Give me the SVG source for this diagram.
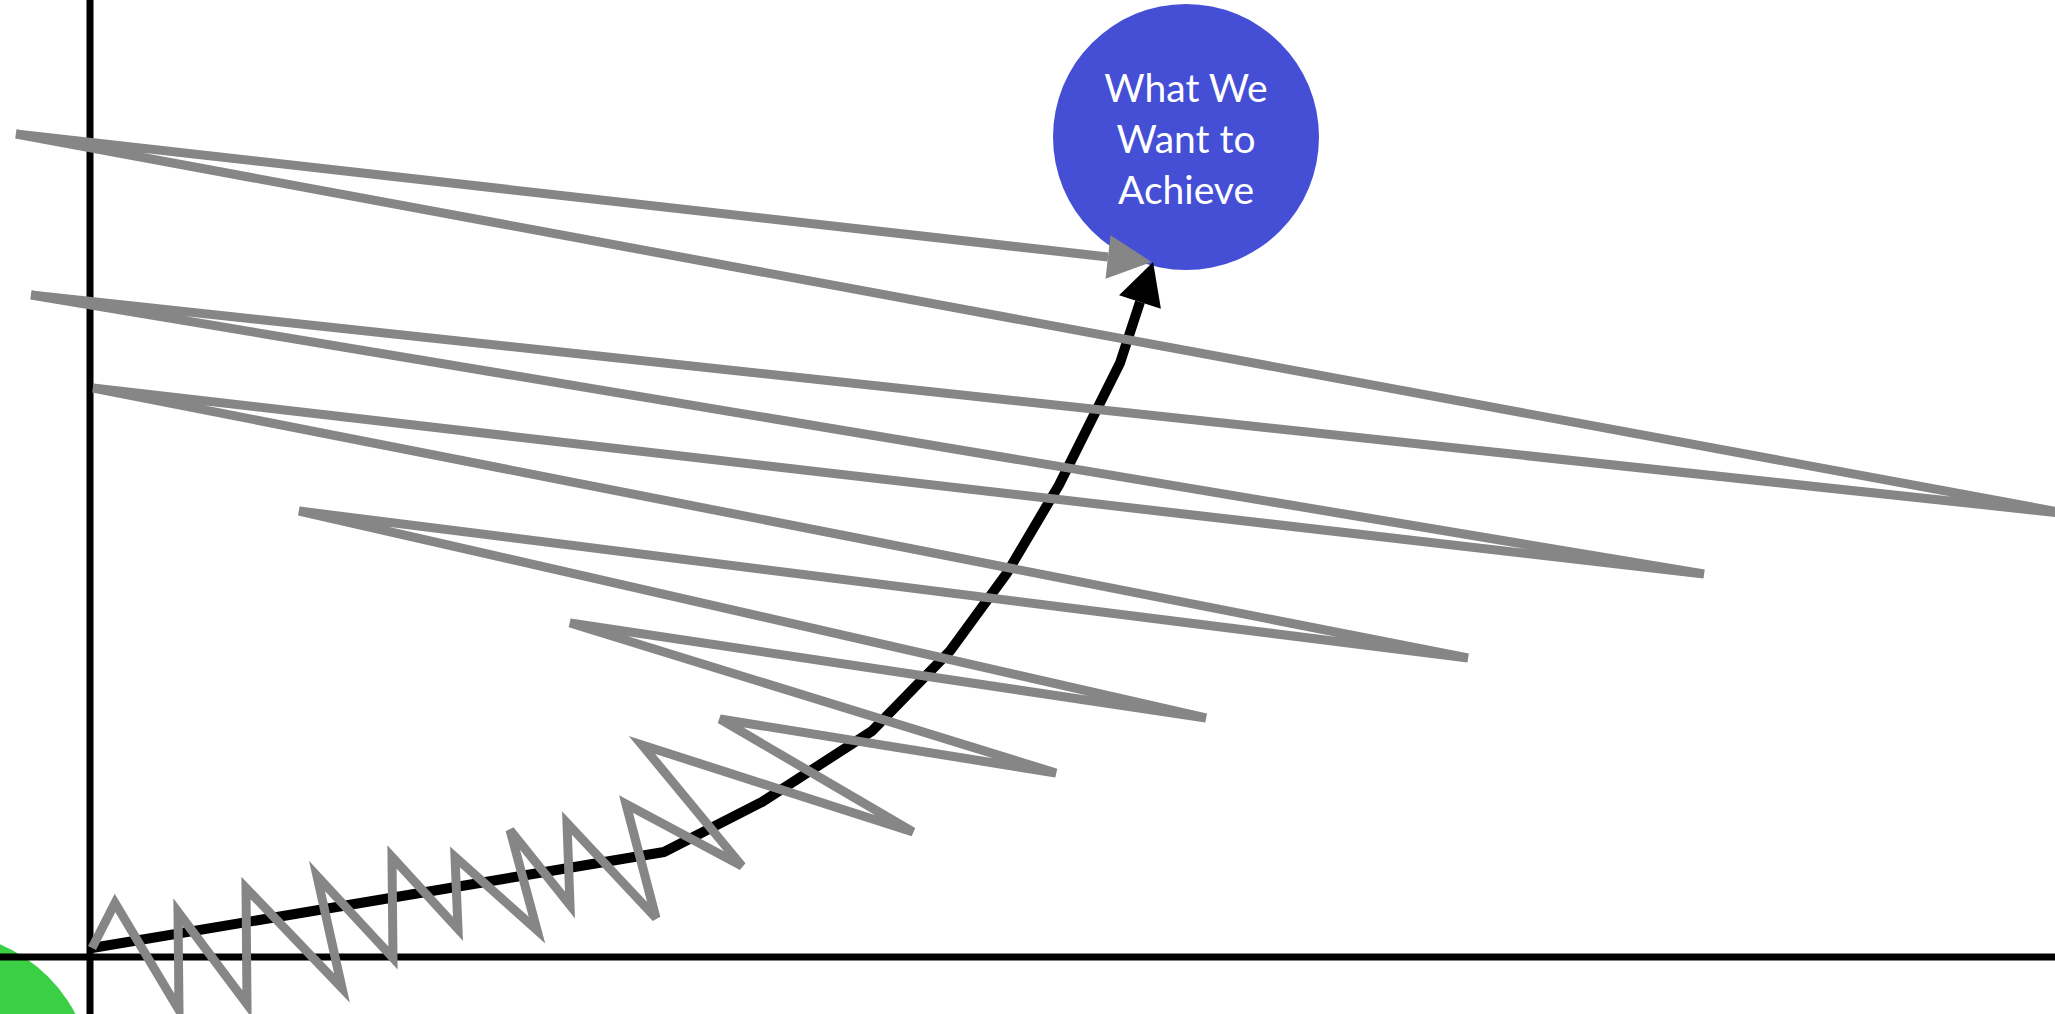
<svg xmlns="http://www.w3.org/2000/svg" width="2055" height="1014" viewBox="0 0 2055 1014">
  <style>
    .axis { stroke: #000; stroke-width: 7; fill: none; }
    .grey { stroke: #868686; stroke-width: 9; fill: none; }
    .black { stroke: #000; stroke-width: 10; fill: none; stroke-linejoin: round; }
    .label { font-family: "Lato", "Liberation Sans", sans-serif; font-size: 39px; fill: #fff; text-anchor: middle; }
  </style>
  <defs>
    <marker id="arrowGrey" markerUnits="userSpaceOnUse" markerWidth="50" markerHeight="50" refX="0" refY="0" orient="auto" overflow="visible">
      <path d="M0,-22 L44,0 L0,22 z" fill="#868686"/>
    </marker>
    <marker id="arrowBlack" markerUnits="userSpaceOnUse" markerWidth="50" markerHeight="50" refX="0" refY="0" orient="auto" overflow="visible">
      <path d="M0,-22 L42,0 L0,22 z" fill="#000"/>
    </marker>
  </defs>
  <rect x="0" y="0" width="2055" height="1014" fill="#fff"/>
  <g id="start-node">
    <circle cx="-60" cy="1085" r="153" fill="#3ACF45"/>
  </g>
  <g id="axes">
    <line class="axis" x1="90" y1="0" x2="90" y2="1014"/>
    <line class="axis" x1="0" y1="957" x2="2055" y2="957"/>
  </g>
  <g id="goal-node">
    <circle cx="1186" cy="137" r="133" fill="#444FD6"/>
    <text class="label" x="1186" y="102">What We</text>
    <text class="label" x="1186" y="153">Want to</text>
    <text class="label" x="1186" y="204">Achieve</text>
  </g>
  <g id="connectors">
    <polyline class="black" marker-end="url(#arrowBlack)" points="92,948 664,852 762,802 872,731 950,651 1007,573 1059,485 1120,363 1140,302"/>
    <polyline class="grey" marker-end="url(#arrowGrey)" points="92,948 115,903 179,1010 178,912 247,1004 246,888 342,988 317,876 393,958 392,857 458,929 455,857 537,930 510,830 570,905 567,823 656,918 626,804 742,866 642,745 913,832 720,719 1056,773 570,623 1206,718 299,511 1468,658 93,388 1704,574 31,295 2070,514 16,134 1108,257"/>
  </g>
</svg>
